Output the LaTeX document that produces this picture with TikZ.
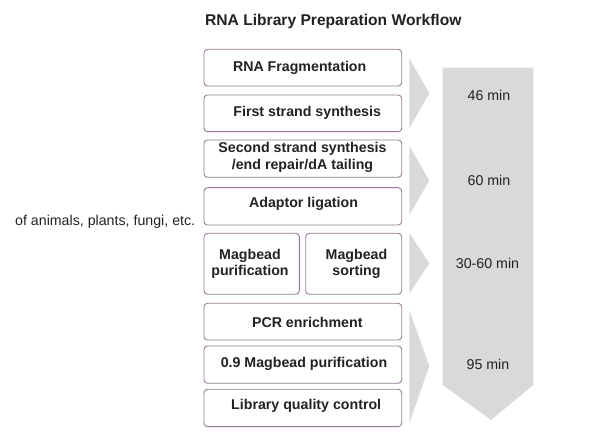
\documentclass[tikz,border=0pt]{standalone}
\usepackage{fontspec}
\setmainfont{Liberation Sans}
\definecolor{boxline}{HTML}{957A98}
\definecolor{chev}{HTML}{D9D9D9}
\definecolor{txt}{HTML}{222222}
\begin{document}
\begin{tikzpicture}[x=1pt,y=-1pt,
  stepbox/.style={draw=boxline,line width=0.9pt,rounded corners=3.5pt,fill=white},
  steptext/.style={font=\fontsize{14.2}{16.5}\selectfont\bfseries,text=txt,align=center,inner sep=0pt},
  timetext/.style={font=\fontsize{14.2}{16}\selectfont,text=txt,inner sep=0pt},
  chevshape/.style={fill=chev,draw=none}]
\useasboundingbox (0,0) rectangle (598,438);
% title
\node[font=\fontsize{15.6}{18}\selectfont\bfseries,text=txt,anchor=west,inner sep=0pt] (title) at (205,21.5) {RNA Library Preparation Workflow};
% side text
\node[font=\fontsize{14.2}{16}\selectfont,text=txt,anchor=west,inner sep=0pt] (side) at (15,221.5) {of animals, plants, fungi, etc.};
% big gray arrow
\fill[chev] (442.7,67.7) -- (533.3,67.7) -- (533.3,385) -- (491,420) -- (442.7,385) -- cycle;
% chevrons
\fill[chev] (409.3,58.3) -- (429.3,93.3) -- (409.3,128.3) -- cycle;
\fill[chev] (409.3,146) -- (429.3,180.5) -- (409.3,215) -- cycle;
\fill[chev] (409.3,233) -- (429.3,263.3) -- (409.3,293.3) -- cycle;
\fill[chev] (409.3,310) -- (429.3,366) -- (409.3,423.3) -- cycle;
% boxes
\draw[stepbox] (204,49.3) rectangle (401.7,86);
\draw[stepbox] (204,95) rectangle (401.7,131.7);
\draw[stepbox] (204,140) rectangle (401.7,177.3);
\draw[stepbox] (204,187.7) rectangle (401.7,225);
\draw[stepbox] (204,233.3) rectangle (299.3,294.3);
\draw[stepbox] (305.7,233.3) rectangle (401.7,294.3);
\draw[stepbox] (204,303.3) rectangle (401.7,340);
\draw[stepbox] (204,346) rectangle (401.7,383.3);
\draw[stepbox] (204,389.3) rectangle (401.7,426.7);
% box texts
\node[steptext] (t1) at (299.7,68.3) {RNA Fragmentation};
\node[steptext] (t2) at (307.2,112.7) {First strand synthesis};
\node[steptext] (t3) at (302.5,157.5) {Second strand synthesis\\/end repair/dA tailing};
\node[steptext] (t4) at (303.5,204.3) {Adaptor ligation};
\node[steptext] (t5) at (250,264) {Magbead\\purification};
\node[steptext] (t6) at (356.5,264) {Magbead\\sorting};
\node[steptext] (t7) at (307.3,322.3) {PCR enrichment};
\node[steptext] (t8) at (304,364.3) {0.9 Magbead purification};
\node[steptext] (t9) at (306.2,406) {Library quality control};
% times
\node[timetext] (m1) at (489,95) {46 min};
\node[timetext] (m2) at (489,180) {60 min};
\node[timetext] (m3) at (487.5,263.5) {30-60 min};
\node[timetext] (m4) at (488,364) {95 min};
\end{tikzpicture}
\end{document}
